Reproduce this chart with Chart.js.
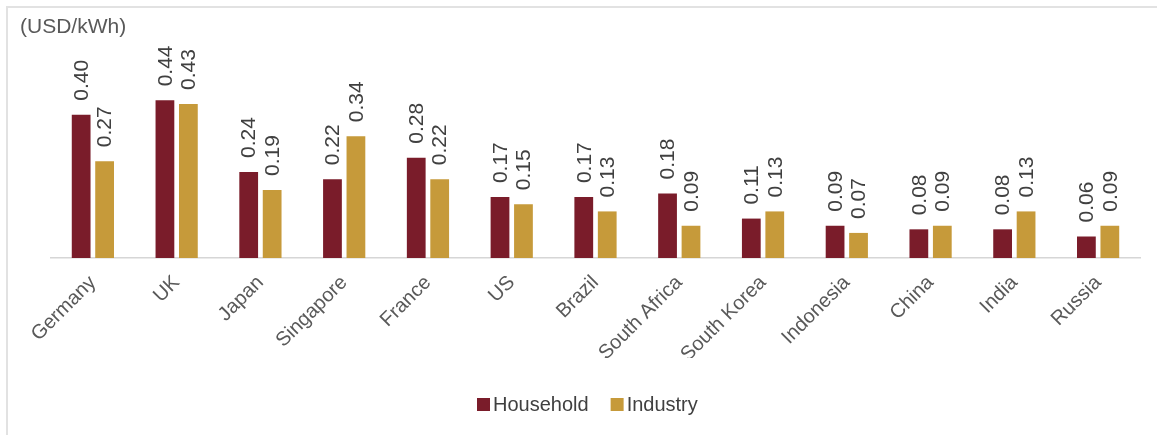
<!DOCTYPE html>
<html>
<head>
<meta charset="utf-8">
<script src="https://cdn.jsdelivr.net/npm/chart.js@4/dist/chart.umd.min.js"></script>
<style>
  html, body { margin: 0; padding: 0; background: #ffffff; }
  #wrap { position: relative; width: 1157px; height: 435px; overflow: hidden; }
  #frame { position: absolute; left: 6px; top: 6px; width: 1200px; height: 500px;
           border-top: 2px solid #e2e2e2; border-left: 2px solid #e2e2e2; }
  canvas { position: absolute; left: 0; top: 0; }
</style>
</head>
<body>
<div id="wrap">
  <div id="frame"></div>
  <canvas id="c" width="1157" height="435"></canvas>
</div>
<script>
const categories = ["Germany", "UK", "Japan", "Singapore", "France", "US", "Brazil",
  "South Africa", "South Korea", "Indonesia", "China", "India", "Russia"];
const household = [0.40, 0.44, 0.24, 0.22, 0.28, 0.17, 0.17, 0.18, 0.11, 0.09, 0.08, 0.08, 0.06];
const industry  = [0.27, 0.43, 0.19, 0.34, 0.22, 0.15, 0.13, 0.09, 0.13, 0.07, 0.09, 0.13, 0.09];
const unitLabel = "(USD/kWh)";
const seriesNames = ["Household", "Industry"];

const FONT = "'Liberation Sans', Arial, sans-serif";

const extras = {
  id: "extras",
  afterDatasetsDraw(chart) {
    const ctx = chart.ctx;
    ctx.save();
    ctx.font = "21px " + FONT;
    ctx.fillStyle = "#404040";
    ctx.textAlign = "left";
    ctx.textBaseline = "middle";
    chart.data.datasets.forEach((ds, di) => {
      const meta = chart.getDatasetMeta(di);
      meta.data.forEach((bar, i) => {
        ctx.save();
        ctx.translate(bar.x + 1, bar.y - 14);
        ctx.rotate(-Math.PI / 2);
        ctx.fillText(ds.data[i].toFixed(2), 0, 0);
        ctx.restore();
      });
    });
    ctx.restore();
  },
  afterDraw(chart) {
    const ctx = chart.ctx;
    ctx.save();
    // unit label
    ctx.font = "21px " + FONT;
    ctx.fillStyle = "#595959";
    ctx.textAlign = "left";
    ctx.textBaseline = "middle";
    ctx.fillText(unitLabel, 20, 27);
    // legend
    const y = 404;
    let x = 477;
    ctx.font = "20px " + FONT;
    chart.data.datasets.forEach((ds, di) => {
      ctx.fillStyle = ds.backgroundColor;
      ctx.fillRect(x, y - 6, 13, 13);
      ctx.fillStyle = "#404040";
      ctx.fillText(ds.label, x + 16, y + 1);
      x += 16 + ctx.measureText(ds.label).width + 22;
    });
    ctx.restore();
  }
};

new Chart(document.getElementById("c"), {
  type: "bar",
  data: {
    labels: categories,
    datasets: [
      { label: seriesNames[0], data: household, backgroundColor: "#7a1c2a",
        categoryPercentage: 0.56, barPercentage: 0.8 },
      { label: seriesNames[1], data: industry, backgroundColor: "#c69a3a",
        categoryPercentage: 0.56, barPercentage: 0.8 }
    ]
  },
  options: {
    responsive: false,
    animation: false,
    devicePixelRatio: 1,
    layout: { padding: { left: 51, right: 17, top: 43, bottom: 77 } },
    plugins: { legend: { display: false }, tooltip: { enabled: false }, title: { display: false } },
    scales: {
      y: { display: false, min: 0, max: 0.6 },
      x: {
        grid: { display: false, drawTicks: false },
        border: { display: true, color: "#d6d6d6", width: 1.5 },
        ticks: { color: "#595959", font: { size: 20, family: FONT },
                 maxRotation: 45, minRotation: 45, padding: 13, autoSkip: false },
        afterFit(scale) { scale.height = 100; }
      }
    }
  },
  plugins: [extras]
});
</script>
</body>
</html>
